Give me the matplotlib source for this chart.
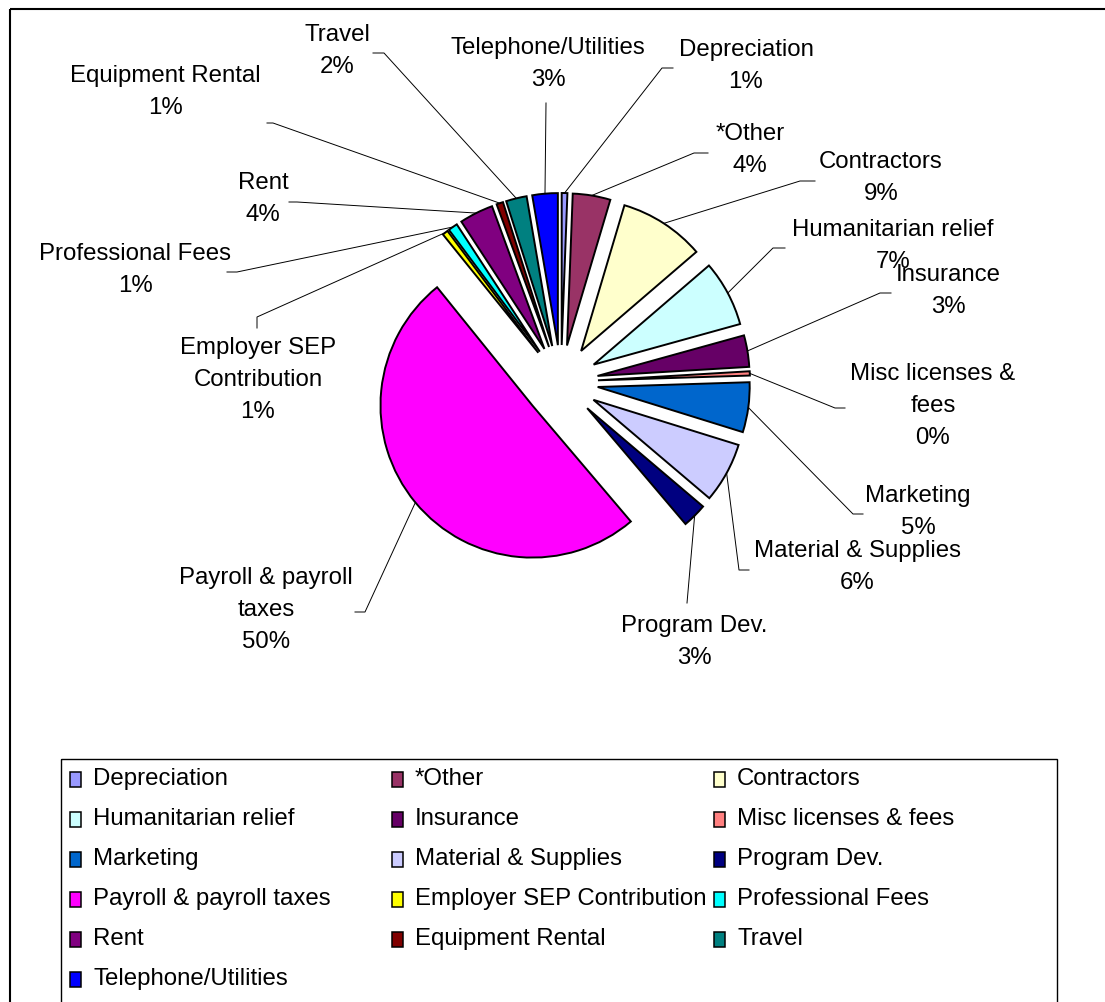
import math
import matplotlib
matplotlib.use("Agg")
import matplotlib.pyplot as plt
from matplotlib.patches import Rectangle

plt.rcParams['font.family'] = ['Liberation Sans', 'DejaVu Sans']

# expense categories, clockwise from 12 o'clock
categories = ['Depreciation', '*Other', 'Contractors', 'Humanitarian relief',
              'Insurance', 'Misc licenses & fees', 'Marketing', 'Material & Supplies',
              'Program Dev.', 'Payroll & payroll taxes', 'Employer SEP Contribution',
              'Professional Fees', 'Rent', 'Equipment Rental', 'Travel',
              'Telephone/Utilities']

# share of total (%)
shares = [0.6, 4.0, 9.1, 7.0, 3.35, 0.45, 5.3, 6.4, 2.6, 50.4, 0.6, 1.0, 3.6, 0.7, 2.2, 2.7]

colors = ['#9999FF', '#993366', '#FFFFCC', '#CCFFFF', '#660066', '#FF8080',
          '#0066CC', '#CCCCFF', '#000080', '#FF00FF', '#FFFF00', '#00FFFF',
          '#800080', '#800000', '#008080', '#0000FF']

# slice label text as wrapped in the chart
label_text = ['Depreciation', '*Other', 'Contractors', 'Humanitarian relief',
              'Insurance', 'Misc licenses &\nfees', 'Marketing', 'Material & Supplies',
              'Program Dev.', 'Payroll & payroll\ntaxes', 'Employer SEP\nContribution',
              'Professional Fees', 'Rent', 'Equipment Rental', 'Travel',
              'Telephone/Utilities']

# label layout in pixels (y down): text centre, leader end, leader stub
label_xy = [(746, 66), (750, 150), (881, 178), (893, 246), (948, 291), (933, 406),
            (918, 512), (857, 567), (694, 642), (266, 610), (258, 380), (135, 270),
            (263, 199), (165, 92), (337, 51), (548, 64)]
leader_end = [(662, 68), (694, 153), (800, 181), (773, 248), (880, 293), (835, 408),
              (853, 514), (739, 570), (687, 603), (365, 612), (257, 317), (237, 272),
              (297, 202), (273, 123), (384, 53), (546, 103)]
leader_stub = [(673, 68), (708, 153), (815, 181), (785, 248), (891, 293), (845, 408),
               (863, 514), (749, 570), None, (355, 612), (257, 328), (227, 272),
               (289, 202), (267, 123), (373, 53), None]

W, H = 1105, 1002
FS = 17.3

fig = plt.figure(figsize=(W / 100, H / 100), dpi=100)
ax = fig.add_axes([0, 0, 1, 1])

# y axis runs downward, so counterclock in data = clockwise on screen
wedges, _ = ax.pie(shares, colors=colors, startangle=-90, counterclock=True,
                   center=(561, 382), radius=152, explode=[37] * len(shares),
                   wedgeprops=dict(edgecolor='black', linewidth=1.4))
ax.set_xlim(0, W)
ax.set_ylim(H, 0)
ax.set_aspect('equal')
ax.axis('off')

for w, txt, s, (lx, ly), end, stub in zip(wedges, label_text, shares,
                                         label_xy, leader_end, leader_stub):
    tm = math.radians((w.theta1 + w.theta2) / 2)
    cx, cy = w.center
    px, py = cx + w.r * math.cos(tm), cy + w.r * math.sin(tm)
    xs, ys = [px, end[0]], [py, end[1]]
    if stub is not None:
        xs.append(stub[0])
        ys.append(stub[1])
    ax.plot(xs, ys, color='black', lw=0.7)
    ax.text(lx, ly, f"{txt}\n{s:.0f}%", ha='center', va='center',
            multialignment='center', fontsize=FS, linespacing=1.58)

# chart border
ax.add_patch(Rectangle((10, 9), 1300, 1300, fill=False, ec='black', lw=1.5))

# legend box, filled row by row like Excel
ax.add_patch(Rectangle((61, 759), 996, 300, fill=False, ec='black', lw=1.0))
for i, (name, c) in enumerate(zip(categories, colors)):
    row, col = divmod(i, 3)
    x = 78 + col * 322
    y = 779 + row * 40
    ax.add_patch(Rectangle((x - 8, y - 7), 11, 15, fc=c, ec='black', lw=1.1))
    ax.text(x + 15, y, name, ha='left', va='center', fontsize=FS)

fig.savefig('out.png', dpi=100)
